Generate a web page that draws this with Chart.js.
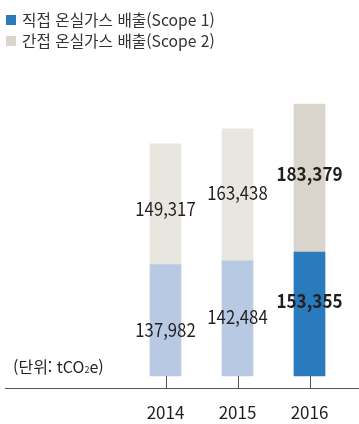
<!DOCTYPE html>
<html lang="ko">
<head>
<meta charset="utf-8">
<script src="https://cdn.jsdelivr.net/npm/chart.js@4.4.1/dist/chart.umd.min.js"></script>
<style>
  html, body { margin: 0; padding: 0; background: #fff; }
  body { width: 359px; height: 424px; position: relative; overflow: hidden;
         font-family: "Noto Sans CJK KR", "Noto Sans", sans-serif; color: #231f20; }
  #wrap { position: absolute; left: 0; top: 0; width: 359px; height: 424px; }
  .legend { position: absolute; left: 6px; top: 9px; font-size: 15.7px; line-height: 21px; color: #333; }
  .legend div { display: flex; align-items: center; white-space: nowrap; }
  .legend i { display: inline-block; width: 10px; height: 10px; margin-right: 6px; }
  .unit { position: absolute; left: 13px; top: 354px; font-size: 16px; color: #231f20; white-space: nowrap; }
  .unit sub { font-size: 9px; vertical-align: 0; }
</style>
</head>
<body>
<div id="wrap"><canvas id="emissionChart" width="359" height="424"></canvas></div>
<div class="legend">
  <div><i style="background:#2a7bbd"></i>직접 온실가스 배출(Scope 1)</div>
  <div><i style="background:#d9d5cc"></i>간접 온실가스 배출(Scope 2)</div>
</div>
<div class="unit">(단위: tCO<sub>2</sub>e)</div>
<script>
// ------ Data ------
const years  = ['2014', '2015', '2016'];
const scope1 = [137982, 142484, 153355];
const scope2 = [149317, 163438, 183379];

// past years are pale, the latest year is highlighted
const scope1Colors = ['#b8c9e3', '#b8c9e3', '#2a7bbd'];
const scope2Colors = ['#e9e6e0', '#e9e6e0', '#d9d5cc'];
const highlight    = [false, false, true];

// vertical nudge (px) of each value label away from its segment centre
const scope1Nudge = [10, -2, -13];
const scope2Nudge = [5, -2, -4];

const FONT = '"Noto Sans CJK KR", "Noto Sans", sans-serif';

// ------ Plugins ------

// short stems from the bar bottoms down to the baseline, plus the baseline itself
const baselinePlugin = {
  id: 'baseline',
  afterDatasetsDraw(chart) {
    const { ctx, chartArea, scales: { x, y } } = chart;
    const zero = y.getPixelForValue(0);
    ctx.save();
    ctx.strokeStyle = '#555';
    ctx.lineWidth = 1;
    ctx.beginPath();
    years.forEach((_, i) => {
      const px = Math.round(x.getPixelForValue(i)) + 0.5;
      ctx.moveTo(px, zero);
      ctx.lineTo(px, chartArea.bottom);
    });
    const by = Math.round(chartArea.bottom) + 0.5;
    ctx.moveTo(5, by);
    ctx.lineTo(chart.width, by);
    ctx.stroke();
    ctx.restore();
  }
};

// value labels inside each segment (narrow, like a condensed face)
const valueLabels = {
  id: 'valueLabels',
  afterDatasetsDraw(chart) {
    const { ctx } = chart;
    ctx.save();
    ctx.textAlign = 'center';
    ctx.textBaseline = 'middle';
    ctx.fillStyle = '#231f20';
    chart.data.datasets.forEach((ds, di) => {
      chart.getDatasetMeta(di).data.forEach((bar, i) => {
        const bold = highlight[i];
        const squeeze = bold ? 0.9 : 0.88;
        ctx.font = `${bold ? 'bold ' : ''}19px ${FONT}`;
        const yMid = (bar.y + bar.base) / 2 + (ds.nudge[i] || 0);
        ctx.save();
        ctx.translate(bar.x, yMid);
        ctx.scale(squeeze, 1);
        ctx.fillText(ds.data[i].toLocaleString('en-US'), 0, 0);
        ctx.restore();
      });
    });
    ctx.restore();
  }
};

// ------ Chart ------
new Chart(document.getElementById('emissionChart'), {
  type: 'bar',
  data: {
    labels: years,
    datasets: [
      { label: '직접 온실가스 배출(Scope 1)', data: scope1, backgroundColor: scope1Colors, nudge: scope1Nudge },
      { label: '간접 온실가스 배출(Scope 2)', data: scope2, backgroundColor: scope2Colors, nudge: scope2Nudge }
    ]
  },
  options: {
    responsive: false,
    animation: false,
    events: [],
    barThickness: 31,
    layout: { padding: { left: 129.5, right: 13.5, top: 61, bottom: 0 } },
    plugins: { legend: { display: false }, tooltip: { enabled: false } },
    scales: {
      x: {
        stacked: true,
        grid: { display: false },
        border: { display: false },
        afterFit(scale) { scale.height = 36; },
        ticks: { padding: 6, color: '#231f20', font: { size: 17, family: FONT } }
      },
      y: {
        stacked: true,
        display: false,
        min: -15000,
        max: 390000
      }
    }
  },
  plugins: [baselinePlugin, valueLabels]
});
</script>
</body>
</html>
